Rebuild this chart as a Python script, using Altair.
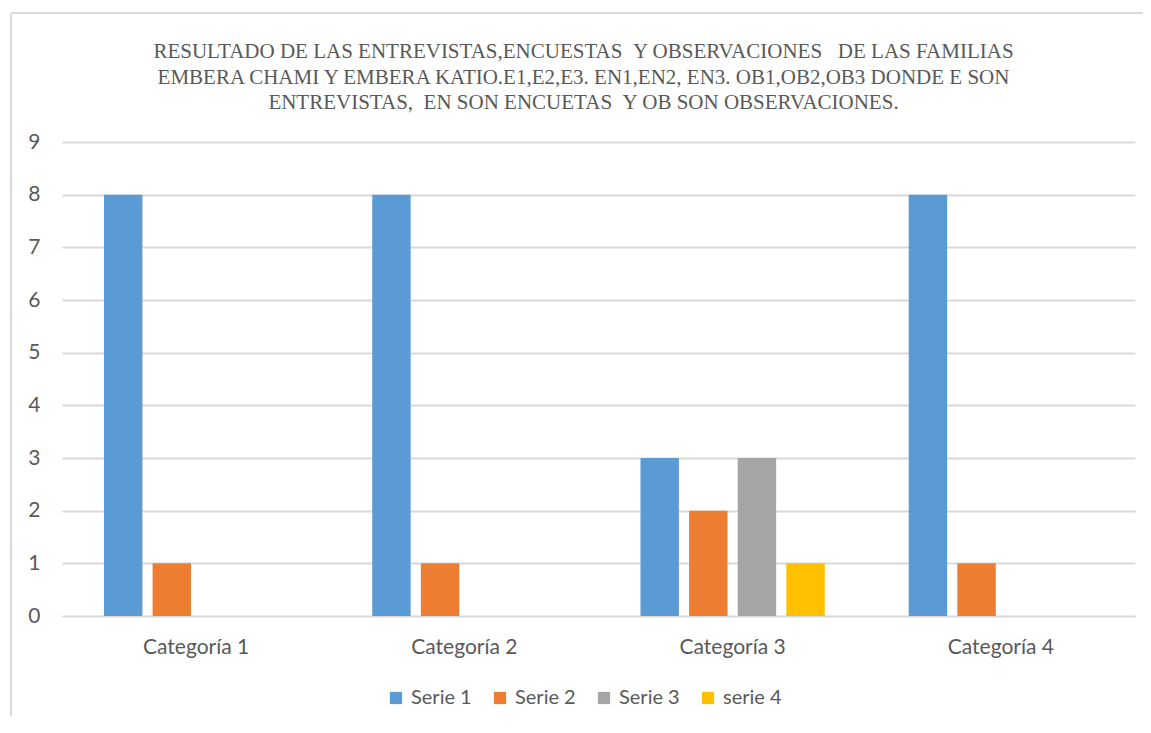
import altair as alt
import pandas as pd

categories = ["Categoría 1", "Categoría 2", "Categoría 3", "Categoría 4"]
series_names = ["Serie 1", "Serie 2", "Serie 3", "serie 4"]
serie1 = [8, 8, 3, 8]
serie2 = [1, 1, 2, 1]
serie3 = [0, 0, 3, 0]
serie4 = [0, 0, 1, 0]
colors = ["#5B9BD5", "#ED7D31", "#A5A5A5", "#FFC000"]
title_lines = [
    "RESULTADO DE LAS ENTREVISTAS,ENCUESTAS \u00a0Y OBSERVACIONES \u00a0\u00a0DE LAS FAMILIAS",
    "EMBERA CHAMI Y EMBERA KATIO.E1,E2,E3. EN1,EN2, EN3. OB1,OB2,OB3 DONDE E SON",
    "ENTREVISTAS, \u00a0EN SON ENCUETAS \u00a0Y OB SON OBSERVACIONES.",
]

rows = []
for name, vals in zip(series_names, [serie1, serie2, serie3, serie4]):
    for c, v in zip(categories, vals):
        rows.append({"Categoria": c, "Serie": name, "Valor": v})
df = pd.DataFrame(rows)

W, H = 1073, 474

bars = alt.Chart(df).mark_bar().encode(
    x=alt.X("Categoria:N", sort=categories, title=None,
            scale=alt.Scale(paddingInner=0.313, paddingOuter=0.1565),
            axis=alt.Axis(labelAngle=0, domain=False, ticks=False, labelPadding=20,
                          labelFont="Lato", labelFontSize=21, labelColor="#595959")),
    xOffset=alt.XOffset("Serie:N", sort=series_names,
                        scale=alt.Scale(paddingInner=0.21, paddingOuter=0)),
    y=alt.Y("Valor:Q", title=None,
            scale=alt.Scale(domain=[0, 9], nice=False),
            axis=alt.Axis(values=list(range(10)), domain=False, ticks=False, labelPadding=22,
                          grid=True, gridColor="#d9d9d9", gridWidth=2,
                          labelFont="Lato", labelFontSize=21, labelColor="#595959")),
    color=alt.Color("Serie:N", sort=series_names,
                    scale=alt.Scale(domain=series_names, range=colors),
                    legend=alt.Legend(title=None, orient="none", direction="horizontal",
                                      legendX=324, legendY=546, columns=4,
                                      symbolType="square", symbolSize=150,
                                      symbolStrokeWidth=0, columnPadding=18,
                                      labelFont="Lato", labelFontSize=20,
                                      labelColor="#595959", labelOffset=5)),
)

frame_left = alt.Chart(df).mark_rule(color="#d9d9d9", strokeWidth=2).encode(
    x=alt.value(-51), y=alt.value(-129), y2=alt.value(H + 130))
frame_top = alt.Chart(df).mark_rule(color="#d9d9d9", strokeWidth=2).encode(
    x=alt.value(-51), x2=alt.value(W + 20), y=alt.value(-129))

chart = alt.layer(bars, frame_left, frame_top).properties(
    width=W, height=H,
    title=alt.TitleParams(text=title_lines, anchor="middle", font="Liberation Serif",
                          fontSize=21, fontWeight="normal", color="#595959",
                          lineHeight=25.5, baseline="alphabetic", offset=-118, dx=-15),
    autosize=alt.AutoSizeParams(type="none"),
    padding={"left": 54, "top": 134, "right": 8, "bottom": 100},
).configure_view(stroke=None)

chart.save("out.html", embed_options={"renderer": "svg", "actions": False})
